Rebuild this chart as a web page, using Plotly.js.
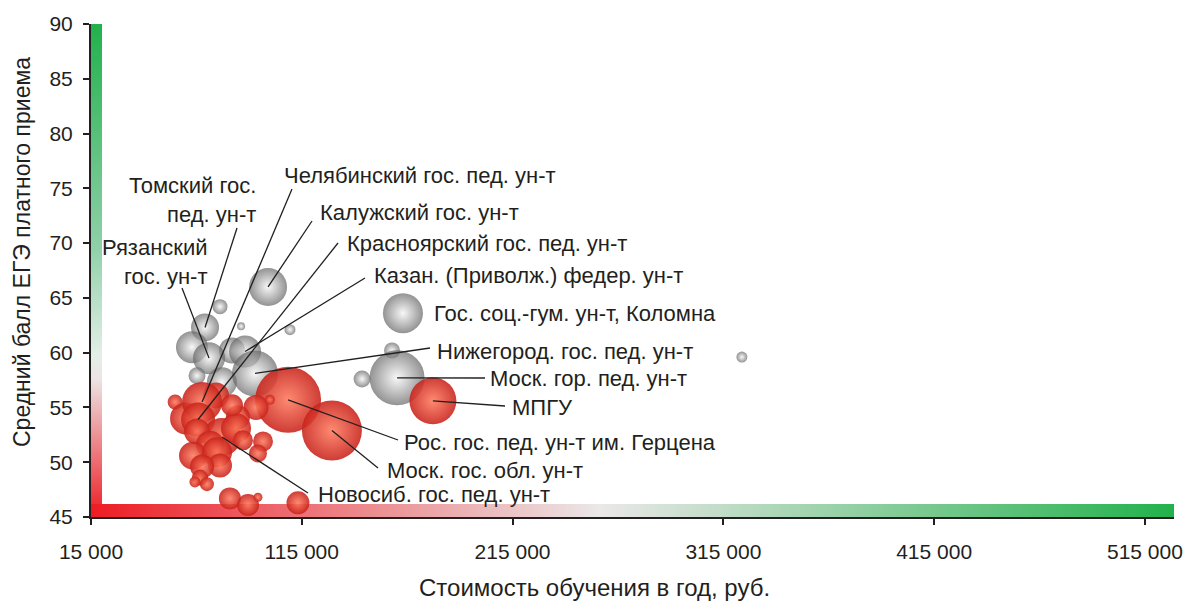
<!DOCTYPE html>
<html>
<head>
<meta charset="utf-8">
<script src="https://cdn.plot.ly/plotly-3.0.1.min.js"></script>
<style>
  html, body { margin: 0; padding: 0; background: #ffffff; }
  #chart { width: 1184px; height: 603px; }
</style>
</head>
<body>
<div id="chart"></div>
<script>
// ---------- DATA ----------
// Tuition per year (rub.), average paid-admission USE score, bubble size value
const grayCost  = [99000, 76200, 86200, 109400, 163000, 157800, 69100, 62900, 81900, 88100, 71000, 65300, 77100, 92800, 143600, 160200, 323800];
const grayScore = [66.0, 64.2, 62.4, 62.1, 63.6, 60.2, 62.3, 60.5, 60.2, 60.1, 59.5, 57.9, 57.3, 58.1, 57.6, 57.7, 59.6];
const graySize  = [38, 15, 8, 11, 40, 16, 28, 32, 26, 32, 32, 17, 30, 46, 17, 55, 11];

const redCost  = [108500, 129300, 177200, 93300, 99900, 54900, 60100, 74300, 67700, 65800, 77100, 65300, 84700, 83800, 71500, 81900, 87100, 96600, 94200, 63400, 74800, 76200, 67700, 66700, 70000, 64300, 80900, 89500, 94200, 113200];
const redScore = [55.7, 52.9, 55.6, 55.0, 55.7, 55.5, 54.0, 56.1, 55.5, 53.9, 52.3, 52.8, 54.1, 53.1, 51.6, 55.2, 52.0, 51.9, 50.8, 50.6, 50.9, 49.7, 49.6, 48.6, 48.0, 48.2, 46.7, 46.1, 46.8, 46.3];
const redSize  = [66, 60, 47, 25, 10, 15, 32, 26, 40, 34, 38, 26, 24, 30, 28, 22, 20, 20, 18, 28, 30, 24, 24, 16, 14, 11, 22, 22, 9, 23];

// Labelled universities: text, series, point index
const labelText = [
  'Томский гос.<br>пед. ун-т',
  'Рязанский<br>гос. ун-т',
  'Челябинский гос. пед. ун-т',
  'Калужский гос. ун-т',
  'Красноярский гос. пед. ун-т',
  'Казан. (Приволж.) федер. ун-т',
  'Гос. соц.-гум. ун-т, Коломна',
  'Нижегород. гос. пед. ун-т',
  'Моск. гор. пед. ун-т',
  'МПГУ',
  'Рос. гос. пед. ун-т им. Герцена',
  'Моск. гос. обл. ун-т',
  'Новосиб. гос. пед. ун-т'
];
const labelSeries = ['gray','gray','red','gray','red','gray','gray','gray','gray','red','red','red','red'];
const labelIndex  = [6, 10, 8, 0, 9, 9, 4, 13, 15, 2, 0, 1, 10];

const xTickVals = [15000, 115000, 215000, 315000, 415000, 515000];
const xTickText = ['15 000', '115 000', '215 000', '315 000', '415 000', '515 000'];
const yTickVals = [45, 50, 55, 60, 65, 70, 75, 80, 85, 90];
const yTickText = ['45', '50', '55', '60', '65', '70', '75', '80', '85', '90'];

const xTitle = 'Стоимость обучения в год, руб.';
const yTitle = 'Средний балл ЕГЭ платного приема';

// ---------- LAYOUT HELPERS ----------
const W = 1184, H = 603;
const M = {l: 91, r: 10, t: 24, b: 86};
const PW = W - M.l - M.r, PH = H - M.t - M.b;
const X0 = 15000, X1 = 528800, Y0 = 45, Y1 = 90;
const pxToX = px => X0 + (px - M.l) / PW * (X1 - X0);
const pxToY = py => Y0 + (M.t + PH - py) / PH * (Y1 - Y0);
const pxToPaperX = px => (px - M.l) / PW;
const pxToPaperY = py => (M.t + PH - py) / PH;

// label positions (pixels): [x, y, anchor]
const labelPos = [
  [258, 200, 'right'], [210, 262, 'right'], [282, 175, 'left'], [318, 212, 'left'],
  [345, 243, 'left'], [372, 275, 'left'], [432, 313, 'left'], [435, 351, 'left'],
  [488, 378, 'left'], [510, 407, 'left'], [402, 442, 'left'], [385, 470, 'left'],
  [316, 494, 'left']
];
// leader line tail positions (pixels), null = no line
const tailPos = [
  [237, 228], [182, 288], [292, 189], [312, 221], [338, 243], [365, 278], null,
  [430, 348], [485, 378], [505, 406], [398, 440], [378, 468], [308, 493]
];

const FONT = '"Liberation Sans", Arial, Helvetica, sans-serif';
const INK = '#231f20';

function svgUri(svg) { return 'data:image/svg+xml;charset=utf-8,' + encodeURIComponent(svg); }
const vertSvg = svgUri("<svg xmlns='http://www.w3.org/2000/svg' width='10' height='100' viewBox='0 0 10 100' preserveAspectRatio='none'><defs><linearGradient id='g' x1='0' y1='0' x2='0' y2='1'><stop offset='0' stop-color='#22b14c'/><stop offset='0.45' stop-color='#8ed0a8'/><stop offset='0.67' stop-color='#e2efe6'/><stop offset='0.72' stop-color='#ece4e4'/><stop offset='1' stop-color='#ed1c24'/></linearGradient></defs><rect x='0' y='0' width='10' height='100' fill='url(#g)'/></svg>");
const horizSvg = svgUri("<svg xmlns='http://www.w3.org/2000/svg' width='100' height='10' viewBox='0 0 100 10' preserveAspectRatio='none'><defs><linearGradient id='h' x1='0' y1='0' x2='1' y2='0'><stop offset='0' stop-color='#ed1c24'/><stop offset='0.47' stop-color='#ebe8e8'/><stop offset='1' stop-color='#22b14c'/></linearGradient></defs><rect x='0' y='0' width='100' height='10' fill='url(#h)'/></svg>");

// ---------- TRACES ----------
const grayTrace = {
  type: 'scatter', mode: 'markers', x: grayCost, y: grayScore,
  marker: {size: graySize, sizemode: 'diameter', sizeref: 1, color: '#646464',
           gradient: {type: 'radial', color: '#f4f4f4'}, line: {width: 0}},
  hoverinfo: 'x+y', showlegend: false
};
const redTrace = {
  type: 'scatter', mode: 'markers', x: redCost, y: redScore,
  marker: {size: redSize, sizemode: 'diameter', sizeref: 1, color: '#c8221a', opacity: 0.88,
           gradient: {type: 'radial', color: '#ff7a5e'}, line: {width: 0}},
  hoverinfo: 'x+y', showlegend: false
};

// ---------- ANNOTATIONS & SHAPES ----------
const annotations = labelText.map((t, i) => ({
  text: t, xref: 'paper', yref: 'paper',
  x: pxToPaperX(labelPos[i][0]), y: pxToPaperY(labelPos[i][1]),
  xanchor: labelPos[i][2], yanchor: 'middle', align: labelPos[i][2],
  showarrow: false, font: {family: FONT, size: 22, color: INK}
}));
annotations.push({text: xTitle, xref: 'paper', yref: 'paper', x: pxToPaperX(594), y: pxToPaperY(587),
  xanchor: 'center', yanchor: 'middle', showarrow: false, font: {family: FONT, size: 24, color: INK}});
annotations.push({text: yTitle, xref: 'paper', yref: 'paper', x: pxToPaperX(22), y: pxToPaperY(252),
  xanchor: 'center', yanchor: 'middle', textangle: -90, showarrow: false, font: {family: FONT, size: 23, color: INK}});

const shapes = [];
labelText.forEach((t, i) => {
  if (!tailPos[i]) return;
  const xs = labelSeries[i] === 'gray' ? grayCost : redCost;
  const ys = labelSeries[i] === 'gray' ? grayScore : redScore;
  shapes.push({type: 'line', xref: 'x', yref: 'y',
    x0: xs[labelIndex[i]], y0: ys[labelIndex[i]],
    x1: pxToX(tailPos[i][0]), y1: pxToY(tailPos[i][1]),
    line: {color: INK, width: 1.3}, layer: 'above'});
});

const layout = {
  width: W, height: H, margin: M,
  paper_bgcolor: '#ffffff', plot_bgcolor: '#ffffff',
  font: {family: FONT, color: INK},
  xaxis: {range: [X0, X1], showgrid: false, zeroline: false, showline: true, linecolor: INK, linewidth: 2,
          ticks: 'outside', ticklen: 6, tickwidth: 2, tickcolor: INK,
          tickvals: xTickVals, ticktext: xTickText, tickfont: {family: FONT, size: 21, color: INK},
          ticklabelstandoff: 9, fixedrange: true},
  yaxis: {range: [Y0, Y1], showgrid: false, zeroline: false, showline: true, linecolor: INK, linewidth: 2,
          ticks: 'outside', ticklen: 6, tickwidth: 2, tickcolor: INK,
          tickvals: yTickVals, ticktext: yTickText, tickfont: {family: FONT, size: 21, color: INK},
          ticklabelstandoff: 6, fixedrange: true},
  images: [
    {source: vertSvg, xref: 'paper', yref: 'paper', x: 0, y: 1, sizex: 11 / PW, sizey: 1,
     xanchor: 'left', yanchor: 'top', sizing: 'stretch', layer: 'below'},
    {source: horizSvg, xref: 'paper', yref: 'paper', x: 0, y: 13 / PH, sizex: 1, sizey: 13 / PH,
     xanchor: 'left', yanchor: 'top', sizing: 'stretch', layer: 'below'}
  ],
  annotations: annotations,
  shapes: shapes,
  showlegend: false
};

Plotly.newPlot('chart', [grayTrace, redTrace], layout, {displayModeBar: false, staticPlot: true});
</script>
</body>
</html>
